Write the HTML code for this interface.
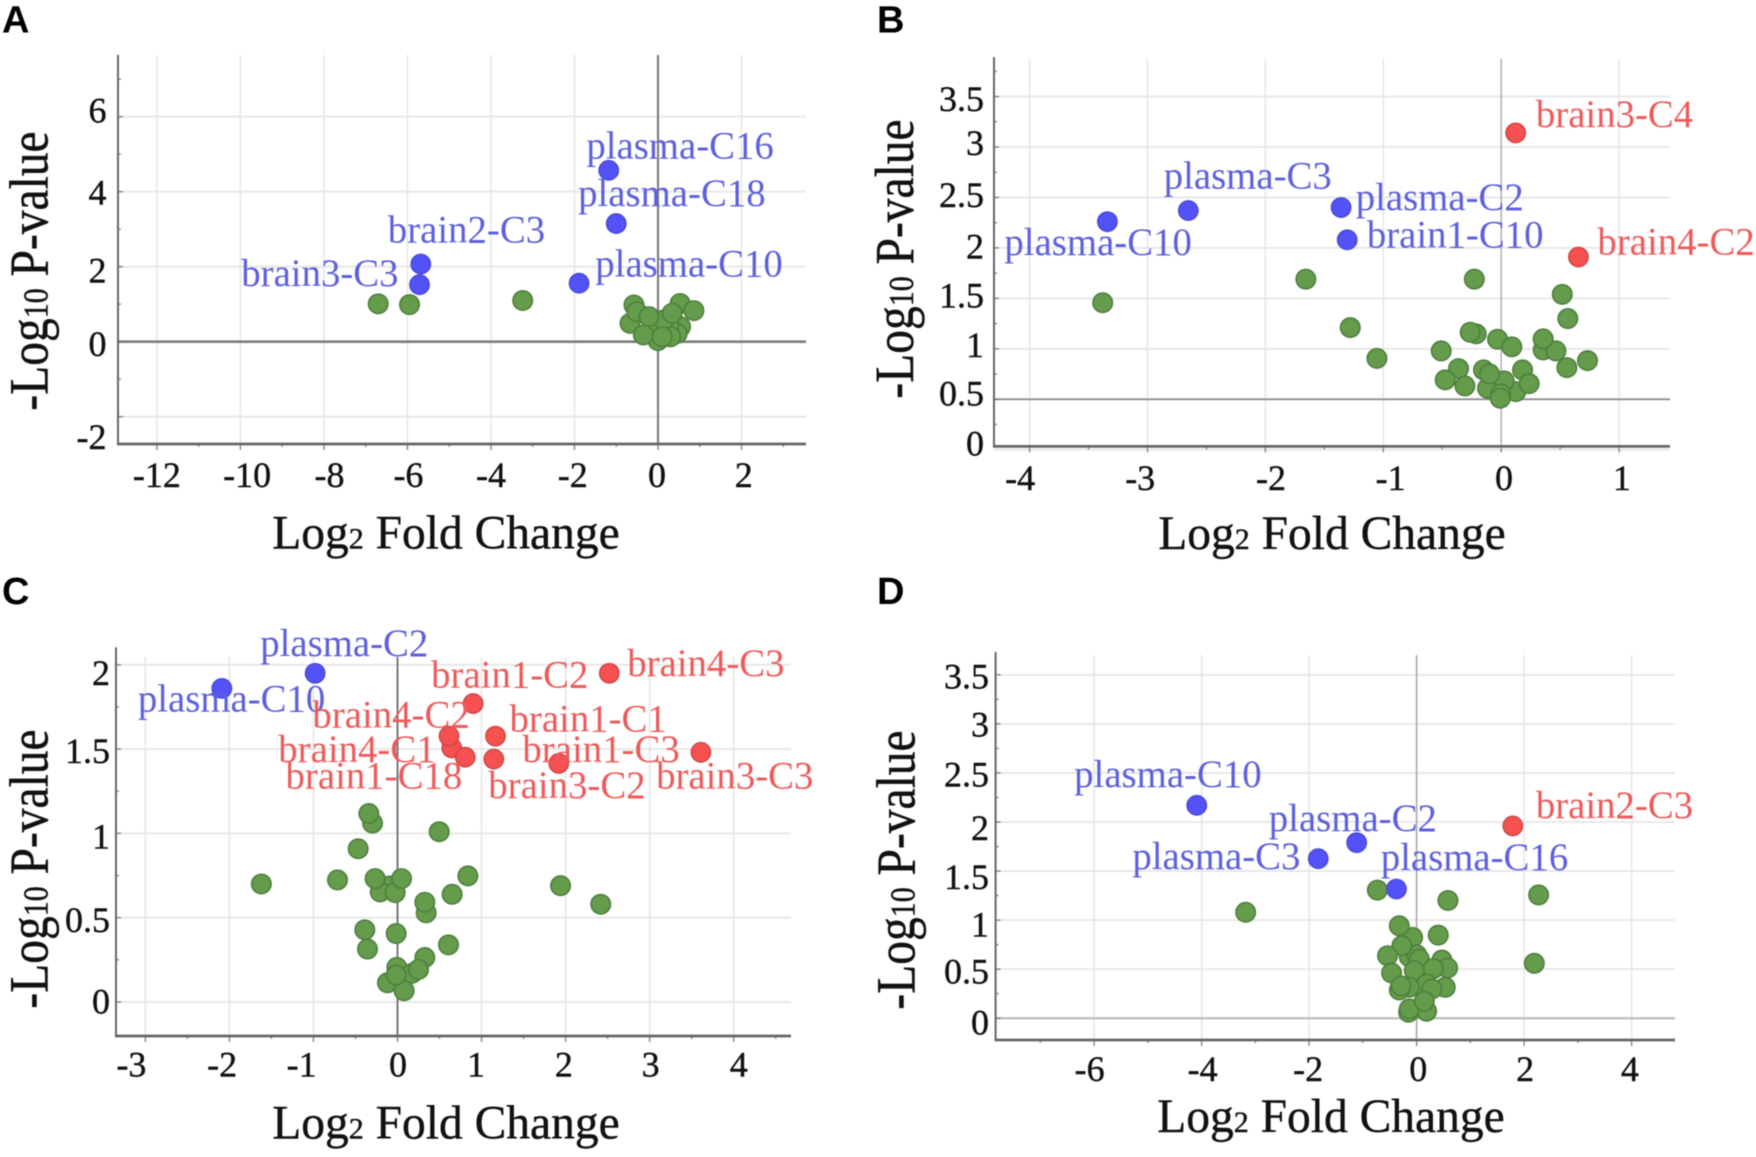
<!DOCTYPE html>
<html lang="en">
<head>
<meta charset="utf-8">
<title>Volcano plots A-D</title>
<style>
  html, body { margin: 0; padding: 0; background: #fff; }
  svg { display: block; filter: blur(0.4px); }
  text { font-family: "Liberation Serif", serif; }
  .letter { font-family: "Liberation Sans", sans-serif; font-weight: bold; font-size: 38px; fill: #000; }
  .title { font-size: 47.5px; fill: #111; stroke: #111; stroke-width: 0.4px; }
  .sub { font-size: 30px; }
</style>
</head>
<body>
<svg id="chart" width="1756" height="1157" viewBox="0 0 1756 1157" xmlns="http://www.w3.org/2000/svg">
  <rect x="0" y="0" width="1756" height="1157" fill="#fff"/>
  <g id="panel-a"></g>
  <g id="panel-b"></g>
  <g id="panel-c"></g>
  <g id="panel-d"></g>

  <text class="letter" x="2" y="32.5">A</text>
  <text class="letter" x="877" y="32.5">B</text>
  <text class="letter" x="2" y="604">C</text>
  <text class="letter" x="877" y="604">D</text>

  <text class="title" text-anchor="middle" x="446" y="548.5">Log<tspan class="sub">2</tspan> Fold Change</text>
  <text class="title" text-anchor="middle" x="1332" y="549">Log<tspan class="sub">2</tspan> Fold Change</text>
  <text class="title" text-anchor="middle" x="446" y="1138.5">Log<tspan class="sub">2</tspan> Fold Change</text>
  <text class="title" text-anchor="middle" x="1331" y="1132">Log<tspan class="sub">2</tspan> Fold Change</text>

  <text class="title" text-anchor="middle" transform="translate(47.6,271) rotate(-90) scale(1,1.15)">-Log<tspan class="sub">10</tspan> P-value</text>
  <text class="title" text-anchor="middle" transform="translate(913,259) rotate(-90) scale(1,1.15)">-Log<tspan class="sub">10</tspan> P-value</text>
  <text class="title" text-anchor="middle" transform="translate(47.6,869) rotate(-90) scale(1,1.15)">-Log<tspan class="sub">10</tspan> P-value</text>
  <text class="title" text-anchor="middle" transform="translate(914.4,870) rotate(-90) scale(1,1.15)">-Log<tspan class="sub">10</tspan> P-value</text>
</svg>

<script>
/* ---------- Panel A data ---------- */
const panelAXTickLabels = [-12, -10, -8, -6, -4, -2, 0, 2];
const panelAYTickLabels = [6, 4, 2, 0, -2];
const panelANeutralX = [-6.7, -5.95, -3.24, 0, 0.54, 0.46, 0.26, -0.06, -0.14, 0.14, 0.30, -0.67, -0.575, -0.51, -0.215, 0.53, 0.86, 0.34, -0.35, 0.10];
const panelANeutralY = [1.01, 0.99, 1.10, 0.03, 0.40, 0.22, 0.40, 0.40, 0.31, 0.58, 0.13, 0.49, 0.98, 0.80, 0.67, 1.02, 0.83, 0.76, 0.18, 0.13];
const panelABlueNames = ["plasma-C16", "plasma-C18", "brain2-C3", "brain3-C3", "plasma-C10"];
const panelABlueX = [-1.18, -1.0, -5.68, -5.71, -1.89];
const panelABlueY = [4.57, 3.15, 2.07, 1.52, 1.56];
const panelARedNames = [];
const panelARedX = [];
const panelARedY = [];

/* ---------- Panel B data ---------- */
const panelBXTickLabels = [-4, -3, -2, -1, 0, 1];
const panelBYTickLabels = [3.5, 3, 2.5, 2, 1.5, 1, 0.5, 0];
const panelBNeutralX = [-3.38, -1.657, -0.228, 0.518, 0.565, -1.28, -1.054, -0.212, -0.263, -0.509, -0.362, -0.475, -0.308, -0.031, 0.09, 0.356, 0.464, 0.356, 0.557, 0.732, 0.181, 0.124, 0.237, -0.15, -0.116, 0.025, -0.099, -0.003, -0.008];
const panelBNeutralY = [1.457, 1.69, 1.69, 1.54, 1.30, 1.21, 0.905, 1.148, 1.164, 0.979, 0.804, 0.692, 0.632, 1.095, 1.019, 0.989, 0.979, 1.098, 0.814, 0.883, 0.791, 0.576, 0.655, 0.791, 0.609, 0.682, 0.751, 0.553, 0.51];
const panelBBlueNames = ["plasma-C3", "plasma-C10", "plasma-C2", "brain1-C10"];
const panelBBlueX = [-2.654, -3.34, -1.358, -1.306];
const panelBBlueY = [2.37, 2.26, 2.40, 2.08];
const panelBRedNames = ["brain3-C4", "brain4-C2"];
const panelBRedX = [0.123, 0.655];
const panelBRedY = [3.14, 1.91];

/* ---------- Panel C data ---------- */
const panelCXTickLabels = [-3, -2, -1, 0, 1, 2, 3, 4];
const panelCYTickLabels = [2, 1.5, 1, 0.5, 0];
const panelCNeutralX = [-1.62, 1.94, 2.418, -0.297, -0.341, 0.496, -0.468, -0.714, -0.095, -0.206, -0.028, -0.266, 0.048, 0.837, 0.65, 0.341, 0.325, -0.389, -0.357, -0.016, 0.607, 0.325, -0.008, 0.171, 0.25, -0.119, 0.079, -0.016];
const panelCNeutralY = [0.70, 0.69, 0.58, 1.061, 1.118, 1.01, 0.909, 0.724, 0.688, 0.653, 0.649, 0.732, 0.732, 0.748, 0.639, 0.529, 0.592, 0.428, 0.314, 0.406, 0.339, 0.264, 0.205, 0.17, 0.193, 0.114, 0.067, 0.16];
const panelCBlueNames = ["plasma-C2", "plasma-C10"];
const panelCBlueX = [-0.98, -2.09];
const panelCBlueY = [1.95, 1.86];
const panelCRedNames = ["brain4-C3", "brain1-C2", "brain1-C1", "brain4-C1", "brain4-C2", "brain1-C18", "brain1-C3", "brain3-C2", "brain3-C3"];
const panelCRedX = [2.52, 0.90, 1.166, 0.646, 0.613, 0.806, 1.146, 1.919, 3.61];
const panelCRedY = [1.95, 1.77, 1.577, 1.507, 1.577, 1.452, 1.441, 1.415, 1.481];

/* ---------- Panel D data ---------- */
const panelDXTickLabels = [-6, -4, -2, 0, 2, 4];
const panelDYTickLabels = [3.5, 3, 2.5, 2, 1.5, 1, 0.5, 0];
const panelDNeutralX = [-0.73, -3.18, 0.583, 2.27, 2.19, -0.074, -0.322, 0.403, -0.136, 0, 0.05, -0.273, -0.54, 0.471, 0.577, 0.31, -0.465, -0.043, 0.533, 0.186, 0.285, -0.136, -0.322, -0.291, 0.186, -0.149, -0.136, 0.143];
const panelDNeutralY = [1.306, 1.08, 1.20, 1.257, 0.56, 0.824, 0.942, 0.847, 0.627, 0.647, 0.603, 0.739, 0.637, 0.593, 0.512, 0.505, 0.461, 0.485, 0.315, 0.349, 0.298, 0.315, 0.288, 0.329, 0.071, 0.061, 0.095, 0.173];
const panelDBlueNames = ["plasma-C10", "plasma-C2", "plasma-C3", "plasma-C16"];
const panelDBlueX = [-4.09, -1.115, -1.83, -0.375];
const panelDBlueY = [2.17, 1.79, 1.626, 1.317];
const panelDRedNames = ["brain2-C3"];
const panelDRedX = [1.79];
const panelDRedY = [1.96];

/* ---------- Layout (not data): frame geometry and text placement ---------- */
const NS = "http://www.w3.org/2000/svg";
const panelLayouts = [
  { id: "panel-a", tag: "a", x0: 658, xUnit: 41.76, y0: 341.7, yUnit: 37.5,
    left: 118, right: 806, top: 55, bottom: 444, xBase: 487, yRight: 106.5, fontOffset: 11.5,
    xMinorStep: 1, yMinorStep: 1,
    xNudge: { "-12": 0, "-10": 6.7, "-8": 5.6, "-6": 1, "-4": 0, "-2": -1.7, "0": -1, "2": 2.2 },
    yNudge: { "6": -5.9, "4": 1.5, "2": 4.4, "0": 2.9, "-2": 20.6 },
    hRef: { v: 0, color: "#7d7d7d", w: 2.6 }, vRef: { v: 0, color: "#777", w: 2, top: 55 },
    labels: { "plasma-C16": [-22.4, -11.8], "plasma-C18": [-38.1, -17.7], "brain2-C3": [-33, -21.4], "brain3-C3": [-178.3, 1.1], "plasma-C10": [16.2, -6.6] } },
  { id: "panel-b", tag: "b", x0: 1501.2, xUnit: 117.9, y0: 449.7, yUnit: 100.9,
    left: 994, right: 1670, top: 57, bottom: 446.4, xBase: 490, yRight: 984, fontOffset: 11.5,
    xMinorStep: 0.5, yMinorStep: 0.25,
    xNudge: { "-4": -9.5, "-3": -7.3, "-2": 5.6, "-1": 7.3, "0": 2.8, "1": 2.8 },
    yNudge: { "3.5": 2.9, "3": -3.7, "2.5": -2.2, "2": -1.1, "1.5": -2.2, "1": -3.3, "0.5": -5.5, "0": -5.5 },
    hRef: { v: 0.5, color: "#8a8a8a", w: 1.8 }, vRef: { v: 0, color: "#b5b5b5", w: 1.6, top: 59 },
    labels: { "brain3-C4": [20.2, -5.9], "plasma-C3": [-24.6, -22.1], "plasma-C2": [14.6, 2.6], "plasma-C10": [-103, 33.2], "brain1-C10": [19.6, 7.7], "brain4-C2": [19, -2.6] } },
  { id: "panel-c", tag: "c", x0: 397.5, xUnit: 84.05, y0: 1002, yUnit: 168.6,
    left: 116, right: 791, top: 647.4, bottom: 1036, xBase: 1076.5, yRight: 110, fontOffset: 11.5,
    xMinorStep: 0.5, yMinorStep: 0.25,
    xNudge: { "-3": -14, "-2": -7.3, "-1": -11.8, "0": 0.5, "1": -5.6, "2": -1.7, "3": 1, "4": 5 },
    yNudge: { "2": 8.5, "1.5": 2.2, "1": 3.7, "0.5": 3, "0": 0 },
    hRef: null, vRef: { v: 0, color: "#777", w: 2, top: 657 },
    labels: { "plasma-C2": [-54.9, -17], "plasma-C10": [-84, 23.3], "brain4-C3": [17.9, 3], "brain1-C2": [-42, -15.9], "brain4-C2": [-136.6, -8.5], "brain1-C1": [14, -4.8], "brain4-C1": [-173.5, 14], "brain1-C3": [28.6, 3], "brain1-C18": [-179.7, 31.4], "brain3-C2": [-70.5, 34.7], "brain3-C3": [-44.8, 36.2] } },
  { id: "panel-d", tag: "d", x0: 1416.6, xUnit: 53.75, y0: 1018.2, yUnit: 98.1,
    left: 995.6, right: 1675, top: 652, bottom: 1040, xBase: 1081, yRight: 989, fontOffset: 11.5,
    xMinorStep: 1, yMinorStep: 0.25,
    xNudge: { "-6": -4.5, "-4": 1, "-2": -1, "0": 1.7, "2": 1, "4": -1.7 },
    yNudge: { "3.5": 2.2, "3": 1.1, "2.5": 2.2, "2": 6.3, "1.5": 6.3, "1": 4.8, "0.5": 2.6, "0": 4.8 },
    hRef: { v: 0, color: "#b8b8b8", w: 2 }, vRef: { v: 0, color: "#aaa", w: 1.6, top: 655 },
    labels: { "plasma-C10": [-122.6, -18.5], "plasma-C2": [-87.9, -11.4], "plasma-C3": [-185.9, 10.3], "plasma-C16": [-15.7, -19.2], "brain2-C3": [23, -7.8] } }
];
const GRID = "#e6e6e6", AXIS = "#666";
const R = 9.7;
const GREEN = ["#659c4b", "#4d7e3e"], BLUE = ["#5252f6", "#4848d6"], RED = ["#f65050", "#c94545"];
const TEXT_BLUE = "#5c60dc", TEXT_RED = "#ee5a5a";

function mk(parent, tag, attrs) {
  const el = document.createElementNS(NS, tag);
  for (const k in attrs) el.setAttribute(k, attrs[k]);
  parent.appendChild(el);
  return el;
}

function drawLine(g, x1, y1, x2, y2, color, w, name) {
  const l = mk(g, "line", { x1: x1, y1: y1, x2: x2, y2: y2, stroke: color, "stroke-width": w });
  
  
}

function drawPanel(L, xTicks, yTicks, series) {
  const g = document.getElementById(L.id);
  const x = v => L.x0 + v * L.xUnit;
  const y = v => L.y0 - v * L.yUnit;

  yTicks.forEach(v => drawLine(g, L.left, y(v), L.right, y(v), GRID, 1.8, "grid-line-y"));
  xTicks.forEach(v => drawLine(g, x(v), L.vRef.top, x(v), L.bottom, GRID, 1.5, "grid-line-x"));

  if (L.hRef) drawLine(g, L.left, y(L.hRef.v), L.right, y(L.hRef.v), L.hRef.color, L.hRef.w, "reference-line-horizontal");
  drawLine(g, x(L.vRef.v), L.vRef.top, x(L.vRef.v), L.bottom, L.vRef.color, L.vRef.w, "reference-line-vertical");

  for (let v = Math.min(...xTicks) - L.xMinorStep; x(v) < L.right; v += L.xMinorStep) {
    if (x(v) <= L.left) continue;
    const major = xTicks.includes(v);
    drawLine(g, x(v), L.bottom, x(v), L.bottom + (major ? 6 : 3), "#777", 1.2, "x-axis-tick");
  }
  for (let v = Math.min(...yTicks) - L.yMinorStep; y(v) > L.top; v += L.yMinorStep) {
    if (y(v) >= L.bottom) continue;
    const major = yTicks.includes(v);
    drawLine(g, L.left, y(v), L.left + (major ? 5 : 3), y(v), "#777", 1.2, "y-axis-tick");
  }

  drawLine(g, L.left, L.top, L.left, L.bottom + 1, AXIS, 2, "y-axis-line");
  drawLine(g, L.left - 1, L.bottom, L.right, L.bottom, AXIS, 2.8, "x-axis-line");

  xTicks.forEach(v => {
    const t = mk(g, "text", { x: x(v) + (L.xNudge[String(v)] || 0), y: L.xBase, "text-anchor": "middle", "font-size": 36, fill: "#111", stroke: "#111", "stroke-width": 0.4 });
    t.textContent = String(v);
    
    
  });
  yTicks.forEach(v => {
    const t = mk(g, "text", { x: L.yRight, y: y(v) + (L.yNudge[String(v)] || 0) + L.fontOffset, "text-anchor": "end", "font-size": 36, fill: "#111", stroke: "#111", "stroke-width": 0.4 });
    t.textContent = String(v);
    
    
  });

  /* neutral (green) points */
  series.neutralX.forEach((v, i) => {
    const c = mk(g, "circle", { cx: x(v), cy: y(series.neutralY[i]), r: R, fill: GREEN[0], stroke: GREEN[1], "stroke-width": 1.6 });
    
    
  });

  /* labelled points */
  const labelled = (names, xs, ys, col, textCol, kind) => {
    names.forEach((n, i) => {
      const c = mk(g, "circle", { cx: x(xs[i]), cy: y(ys[i]), r: R, fill: col[0], stroke: col[1], "stroke-width": 1.4 });
      
      
    });
    names.forEach((n, i) => {
      const off = L.labels[n] || [12, 0];
      const t = mk(g, "text", { x: x(xs[i]) + off[0], y: y(ys[i]) + off[1], "font-size": 38.8, fill: textCol });
      t.textContent = n;
      
      
    });
  };
  labelled(series.blueNames, series.blueX, series.blueY, BLUE, TEXT_BLUE, "blue");
  labelled(series.redNames, series.redX, series.redY, RED, TEXT_RED, "red");
}

drawPanel(panelLayouts[0], panelAXTickLabels, panelAYTickLabels, {
  neutralX: panelANeutralX, neutralY: panelANeutralY,
  blueNames: panelABlueNames, blueX: panelABlueX, blueY: panelABlueY,
  redNames: panelARedNames, redX: panelARedX, redY: panelARedY });
drawPanel(panelLayouts[1], panelBXTickLabels, panelBYTickLabels, {
  neutralX: panelBNeutralX, neutralY: panelBNeutralY,
  blueNames: panelBBlueNames, blueX: panelBBlueX, blueY: panelBBlueY,
  redNames: panelBRedNames, redX: panelBRedX, redY: panelBRedY });
drawPanel(panelLayouts[2], panelCXTickLabels, panelCYTickLabels, {
  neutralX: panelCNeutralX, neutralY: panelCNeutralY,
  blueNames: panelCBlueNames, blueX: panelCBlueX, blueY: panelCBlueY,
  redNames: panelCRedNames, redX: panelCRedX, redY: panelCRedY });
drawPanel(panelLayouts[3], panelDXTickLabels, panelDYTickLabels, {
  neutralX: panelDNeutralX, neutralY: panelDNeutralY,
  blueNames: panelDBlueNames, blueX: panelDBlueX, blueY: panelDBlueY,
  redNames: panelDRedNames, redX: panelDRedX, redY: panelDRedY });
</script>
</body>
</html>
